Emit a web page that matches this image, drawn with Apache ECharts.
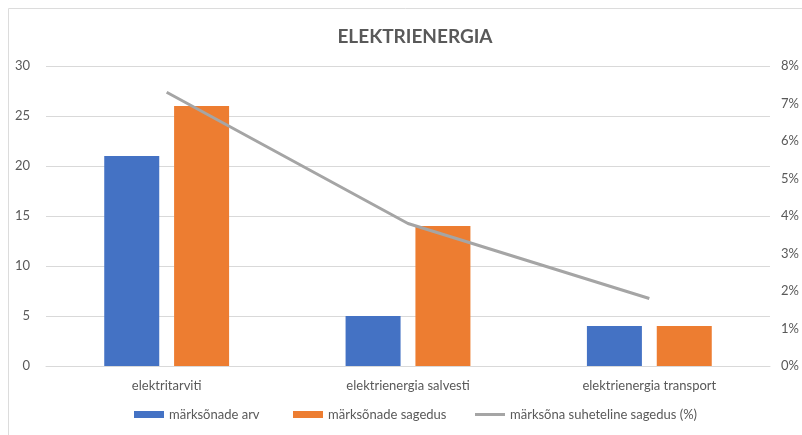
<!DOCTYPE html>
<html>
<head>
<meta charset="utf-8">
<script src="https://cdn.jsdelivr.net/npm/echarts@6/dist/echarts.min.js"></script>
<style>
  html, body { margin: 0; padding: 0; background: #fff; }
  #chart { width: 802px; height: 435px; }
</style>
</head>
<body>
<div id="chart"></div>
<script>
// Keyword categories and counts
const categories = ['elektritarviti', 'elektrienergia salvesti', 'elektrienergia transport'];
const keywordCount = [21, 5, 4];          // märksõnade arv
const keywordFrequency = [26, 14, 4];     // märksõnade sagedus
const relativeFrequency = [7.3, 3.8, 1.8]; // märksõna suheteline sagedus (%)

const leftTicks = { min: 0, max: 30, interval: 5 };
const rightTicks = { min: 0, max: 8, interval: 1 };

const textColor = '#595959';
const gridColor = '#d9d9d9';
const fontFamily = 'Lato, "Liberation Sans", sans-serif';

// one legend block per series so each entry sits at its own spot
function legendBlock(name, left, icon) {
  return {
    bottom: 9,
    left: left,
    itemWidth: 30,
    itemHeight: 7,
    textStyle: { color: textColor, fontSize: 13, fontFamily: fontFamily },
    data: [{ name: name, icon: icon }]
  };
}

const chart = echarts.init(document.getElementById('chart'));
chart.setOption({
  backgroundColor: '#fff',
  animation: false,
  textStyle: { fontFamily: fontFamily },
  title: {
    text: 'ELEKTRIENERGIA',
    left: 410,
    textAlign: 'center',
    top: 22,
    textStyle: { fontSize: 19, fontWeight: 'bold', color: textColor, fontFamily: fontFamily }
  },
  graphic: [
    { type: 'line', shape: { x1: 8.5, y1: 8.5, x2: 802, y2: 8.5 }, style: { stroke: '#dcdcdc', lineWidth: 1 } },
    { type: 'line', shape: { x1: 8.5, y1: 8.5, x2: 8.5, y2: 435 }, style: { stroke: '#dcdcdc', lineWidth: 1 } }
  ],
  grid: { left: 46, right: 32, top: 66, bottom: 69, containLabel: false },
  legend: [
    legendBlock('märksõnade arv', 129, 'rect'),
    legendBlock('märksõnade sagedus', 288, 'rect'),
    legendBlock('märksõna suheteline sagedus (%)', 470, 'path://M0,0 L30,0 L30,3 L0,3 Z')
  ],
  xAxis: {
    type: 'category',
    data: categories,
    axisTick: { show: false },
    axisLine: { lineStyle: { color: gridColor, width: 1 } },
    axisLabel: { color: textColor, fontSize: 13, margin: 13, fontFamily: fontFamily }
  },
  yAxis: [
    {
      type: 'value',
      min: leftTicks.min, max: leftTicks.max, interval: leftTicks.interval,
      axisLine: { show: false },
      axisTick: { show: false },
      splitLine: { lineStyle: { color: gridColor, width: 1 } },
      axisLabel: { color: textColor, fontSize: 13, margin: 16, fontFamily: fontFamily }
    },
    {
      type: 'value',
      min: rightTicks.min, max: rightTicks.max, interval: rightTicks.interval,
      position: 'right',
      axisLine: { show: false },
      axisTick: { show: false },
      splitLine: { show: false },
      axisLabel: { color: textColor, fontSize: 13, margin: 11, formatter: '{value}%', fontFamily: fontFamily }
    }
  ],
  series: [
    {
      name: 'märksõnade arv',
      type: 'bar',
      data: keywordCount,
      barWidth: 55,
      barGap: '27%',
      itemStyle: { color: '#4472c4' }
    },
    {
      name: 'märksõnade sagedus',
      type: 'bar',
      data: keywordFrequency,
      barWidth: 55,
      itemStyle: { color: '#ed7d31' }
    },
    {
      name: 'märksõna suheteline sagedus (%)',
      type: 'line',
      yAxisIndex: 1,
      data: relativeFrequency,
      symbol: 'none',
      lineStyle: { color: '#a5a5a5', width: 3 },
      itemStyle: { color: '#a5a5a5' },
      z: 5
    }
  ]
});
</script>
</body>
</html>
